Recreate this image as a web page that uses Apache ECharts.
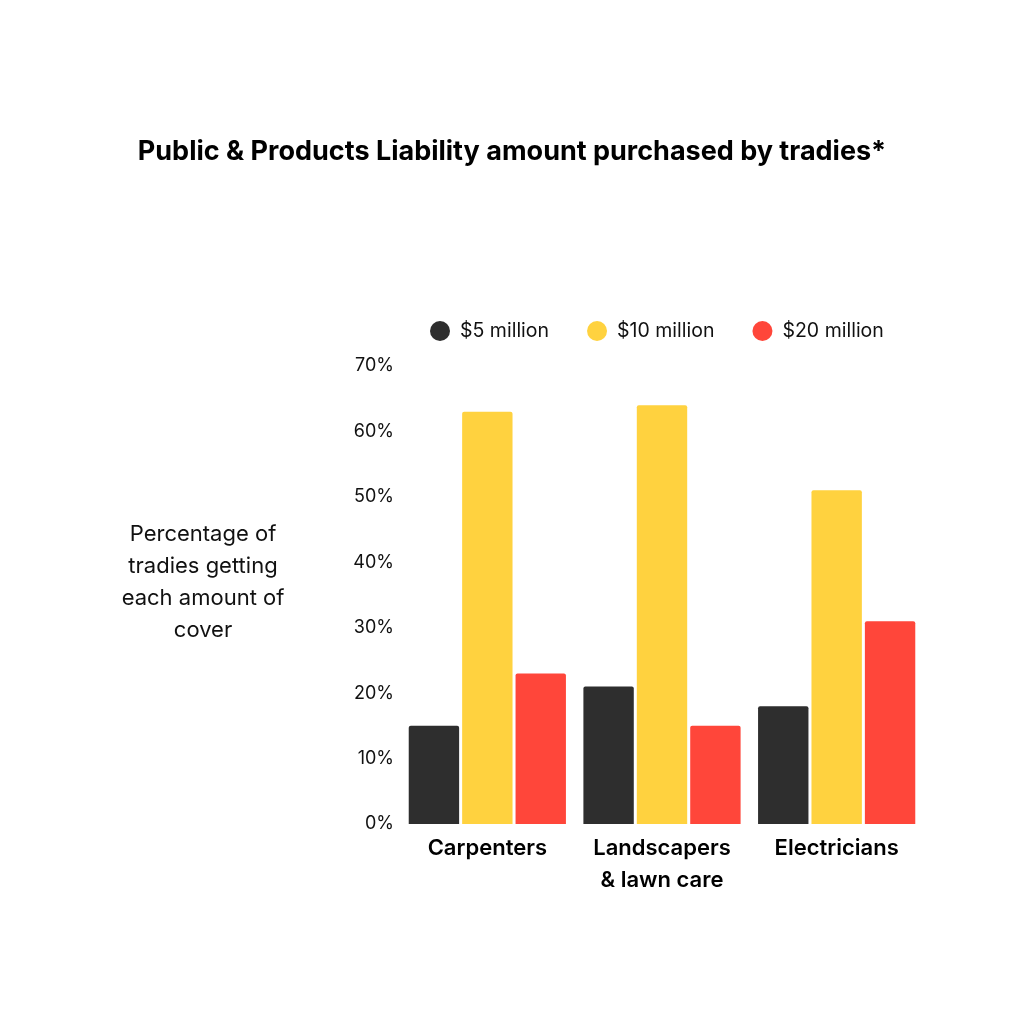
<!DOCTYPE html>
<html>

<head>
  <meta charset="utf-8">
  <style>
    html,
    body {
      width: 100%;
      height: 100%;
      margin: 0;
      padding: 0;
      overflow: hidden;
      background-color: #fff;
    }

    #container {
      width: 1024px;
      height: 1024px;
      position: absolute;
      top: 0;
      left: 0;
    }
  </style>
</head>

<body>
  <div id="container"></div>

  <script src="https://cdn.jsdelivr.net/npm/echarts@6/dist/echarts.min.js"></script>
  <script>
    // data
    var trades = ['Carpenters', 'Landscapers\n& lawn care', 'Electricians'];
    var seriesNames = ['$5 million', '$10 million', '$20 million'];
    var fiveMillion = [15, 21, 18];
    var tenMillion = [63, 64, 51];
    var twentyMillion = [23, 15, 31];
    var colors = ['#2e2e2e', '#ffd23f', '#ff463a'];

    var FONT = 'Inter, Roboto, sans-serif';

    var chart = echarts.init(document.getElementById('container'));

    function barSeries(name, values, color) {
      return {
        name: name,
        type: 'bar',
        data: values,
        barGap: '6%',
        barCategoryGap: '10%',
        itemStyle: {
          color: color,
          borderRadius: [2, 2, 0, 0]
        }
      };
    }

    chart.setOption({
      backgroundColor: '#fff',
      animation: false,
      title: {
        text: 'Public & Products Liability amount purchased by tradies*',
        left: 'center',
        top: 133,
        textStyle: {
          fontFamily: FONT,
          fontSize: 27,
          fontWeight: 'bold',
          color: '#000'
        }
      },
      legend: {
        data: seriesNames,
        top: 316,
        left: 425,
        itemWidth: 20,
        itemHeight: 20,
        itemGap: 38,
        icon: 'circle',
        textStyle: {
          fontFamily: FONT,
          fontSize: 19.5,
          color: '#111',
          padding: [0, 0, 0, 5]
        }
      },
      graphic: [{
        type: 'text',
        x: 203,
        y: 518,
        style: {
          text: 'Percentage of\ntradies getting\neach amount of\ncover',
          textAlign: 'center',
          fontFamily: FONT,
          fontSize: 22,
          lineHeight: 32,
          fill: '#111'
        }
      }],
      grid: {
        left: 400,
        right: 100,
        top: 366,
        bottom: 200
      },
      xAxis: {
        type: 'category',
        data: trades,
        axisLine: { show: false },
        axisTick: { show: false },
        axisLabel: {
          interval: 0,
          margin: 8,
          fontFamily: FONT,
          fontSize: 22,
          fontWeight: 600,
          lineHeight: 32,
          color: '#000'
        }
      },
      yAxis: {
        type: 'value',
        min: 0,
        max: 70,
        interval: 10,
        splitLine: { show: false },
        axisLine: { show: false },
        axisTick: { show: false },
        axisLabel: {
          margin: 6,
          formatter: '{value}%',
          fontFamily: FONT,
          fontSize: 18,
          color: '#111'
        }
      },
      series: [
        barSeries(seriesNames[0], fiveMillion, colors[0]),
        barSeries(seriesNames[1], tenMillion, colors[1]),
        barSeries(seriesNames[2], twentyMillion, colors[2])
      ]
    });
  </script>
</body>

</html>
